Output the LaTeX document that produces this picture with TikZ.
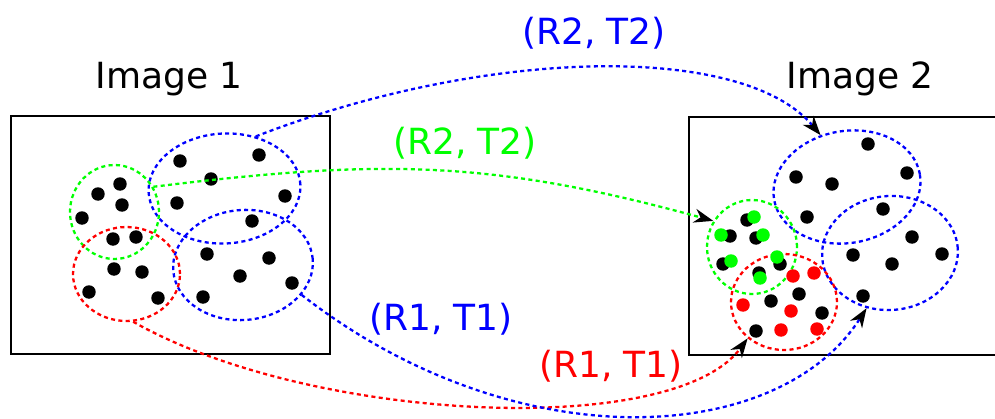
\documentclass[tikz,border=0pt]{standalone}
\usepackage{fontspec}
\setmainfont{DejaVu Sans}
\usetikzlibrary{arrows.meta,shapes.geometric}
\tikzset{
  folt/.style={circle,fill,inner sep=0pt,minimum size=0.27cm},
  tart/.style={ellipse,draw,line width=1.3pt,dash pattern=on 2.3pt off 1.9pt,inner sep=0pt},
  keret/.style={draw,line width=1.4pt},
  iv/.style={line width=1.3pt,dash pattern=on 2.3pt off 1.9pt,
    -{Stealth[length=11pt,width=8pt,inset=3.5pt,black]}},
  felirat/.style={font=\fontsize{20.5}{24}\selectfont,anchor=base},
}
\begin{document}
\begin{tikzpicture}[x=0.02cm,y=-0.02cm]
  \clip (0,0) rectangle (995,419);
  \begin{scope}
    \draw[keret] (11,116) rectangle (330,354);
    \node[felirat] (cim1) at (169,89) {Image 1};
    \node[tart,blue,minimum width=3.04cm,minimum height=2.2cm,rotate=3] (bk1) at (224.5,188.5) {};
    \node[tart,blue,minimum width=2.8cm,minimum height=2.2cm,rotate=5] (bk2) at (243,265) {};
    \node[tart,green,minimum width=1.78cm,minimum height=1.88cm] (bz) at (114.5,212) {};
    \node[tart,red,minimum width=2.14cm,minimum height=1.88cm] (bp) at (126.5,274) {};
    \foreach \x/\y [count=\i] in {180/161,259/155,211/179,177/203,285/196,252/221,98/194,
      120/184,122/205,82/218,113/239,136/237,114/269,142/272,89/292,158/298,207/254,
      269/258,240/276,292/283,203/297}
      \node[folt] (b\i) at (\x,\y) {};
  \end{scope}
  \begin{scope}
    \draw[keret] (689,117) rectangle (1000,355);
    \node[felirat] (cim2) at (860,89) {Image 2};
    \node[tart,blue,minimum width=2.96cm,minimum height=2.24cm,rotate=10] (jk1) at (847,187) {};
    \node[tart,blue,minimum width=2.72cm,minimum height=2.28cm,rotate=4] (jk2) at (890,253) {};
    \node[tart,green,minimum width=1.8cm,minimum height=1.88cm] (jz) at (752,247) {};
    \node[tart,red,minimum width=2.12cm,minimum height=1.92cm] (jp) at (784,302) {};
    \foreach \x/\y [count=\i] in {868/144,796/177,832/184,907/173,807/217,883/209,912/237,
      942/254,853/255,892/264,863/296,747/220,730/236,756/238,723/264,780/264,759/273,
      799/294,771/301,822/313,756/331}
      \node[folt] (jf\i) at (\x,\y) {};
    \foreach \x/\y [count=\i] in {793/276,814/273,743/305,791/311,781/330,817/329}
      \node[folt,red] (jr\i) at (\x,\y) {};
    \foreach \x/\y [count=\i] in {754/217,721/235,763/235,731/261,777/257,760/278}
      \node[folt,green] (jg\i) at (\x,\y) {};
  \end{scope}
  \draw[iv,blue] (bk1.56) .. controls +(233,-90) and +(-77,-92) .. (jk1.107);
  \draw[iv,green] (bz.33) .. controls +(228,-28) and +(-222,-61) .. (jz.146);
  \draw[iv,red] (bp.278) .. controls +(178,101) and +(-74,101) .. (jp.225);
  \draw[iv,blue] (bk2.328) .. controls +(213,166) and +(-89,139) .. (jk2.243);
  \node[felirat,blue] (rt2) at (594,45) {(R2, T2)};
  \node[felirat,green] (rt2z) at (465,154) {(R2, T2)};
  \node[felirat,blue] (rt1) at (441,330) {(R1, T1)};
  \node[felirat,red] (rt1p) at (611,377) {(R1, T1)};
\end{tikzpicture}
\end{document}
